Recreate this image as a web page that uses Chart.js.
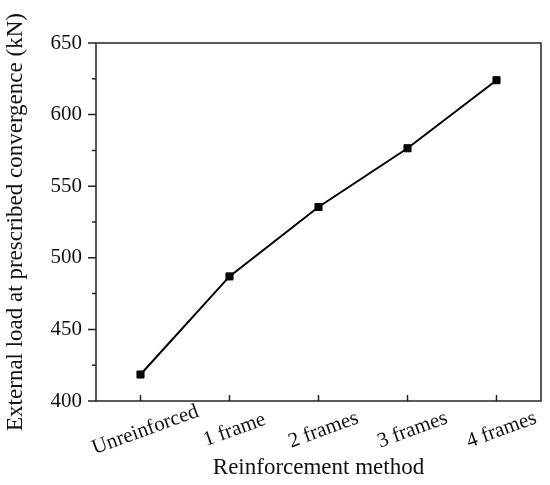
<!DOCTYPE html>
<html>
<head>
<meta charset="utf-8">
<script src="https://cdn.jsdelivr.net/npm/chart.js@4"></script>
<style>
    html, body { margin: 0; padding: 0; background: #fff; }
    #wrap { width: 550px; height: 485px; }
</style>
</head>
<body>
<div id="wrap"><canvas id="chart" width="550" height="485"></canvas></div>
<script>
var categories = ['Unreinforced', '1 frame', '2 frames', '3 frames', '4 frames'];
var loadValues = [418.5, 487, 535.5, 576.5, 624];
var yTicks = [400, 450, 500, 550, 600, 650];

var FONT = '"Liberation Serif", "Times New Roman", serif';
var AXIS = '#222';

// frame, inward x ticks, minor y ticks and rotated category labels
var framePlugin = {
    id: 'frame',
    afterDraw: function (chart) {
        var ctx = chart.ctx;
        var a = chart.chartArea;
        var xs = chart.scales.x;
        var ys = chart.scales.y;
        ctx.save();
        ctx.strokeStyle = AXIS;
        ctx.lineWidth = 1.5;
        ctx.strokeRect(a.left, a.top, a.right - a.left, a.bottom - a.top);

        ctx.beginPath();
        categories.forEach(function (c, i) {
            var px = xs.getPixelForTick(i);
            ctx.moveTo(px, a.bottom);
            ctx.lineTo(px, a.bottom - 6);
        });
        yTicks.forEach(function (v) {
            var py = ys.getPixelForValue(v);
            ctx.moveTo(a.left, py);
            ctx.lineTo(a.left - 8, py);
            if (v < 650) {
                var pm = ys.getPixelForValue(v + 25);
                ctx.moveTo(a.left, pm);
                ctx.lineTo(a.left - 4, pm);
            }
        });
        ctx.stroke();

        ctx.fillStyle = '#111';
        ctx.font = '21px ' + FONT;
        ctx.textAlign = 'center';
        ctx.textBaseline = 'middle';
        categories.forEach(function (c, i) {
            var px = xs.getPixelForTick(i);
            ctx.save();
            ctx.translate(px + 5, a.bottom + 29);
            ctx.rotate(-20 * Math.PI / 180);
            ctx.fillText(c, 0, 0);
            ctx.restore();
        });
        ctx.restore();
    }
};

new Chart(document.getElementById('chart').getContext('2d'), {
    type: 'line',
    data: {
        labels: categories,
        datasets: [{
            data: loadValues,
            borderColor: '#000',
            backgroundColor: '#000',
            borderWidth: 2,
            pointStyle: 'rect',
            pointRadius: 5,
            pointBorderWidth: 1,
            pointBackgroundColor: '#000',
            tension: 0,
            fill: false
        }]
    },
    options: {
        responsive: false,
        animation: false,
        devicePixelRatio: 1,
        layout: { padding: { left: 0, right: 9, top: 43, bottom: 0 } },
        plugins: {
            legend: { display: false },
            tooltip: { enabled: false }
        },
        scales: {
            x: {
                type: 'category',
                offset: true,
                grid: { display: false },
                border: { display: false },
                ticks: { display: false },
                title: {
                    display: true,
                    text: 'Reinforcement method',
                    color: '#111',
                    font: { family: FONT, size: 23 },
                    padding: { top: 0, bottom: 3 }
                },
                afterFit: function (scale) { scale.height = 84; }
            },
            y: {
                min: 400,
                max: 650,
                grid: { display: false, tickLength: 8 },
                border: { display: false },
                ticks: {
                    stepSize: 50,
                    padding: 6,
                    color: '#111',
                    font: { family: FONT, size: 21 }
                },
                title: {
                    display: true,
                    text: 'External load at prescribed convergence (kN)',
                    color: '#111',
                    font: { family: FONT, size: 23 },
                    padding: { top: 2, bottom: 0 }
                },
                afterFit: function (scale) { scale.width = 96; }
            }
        }
    },
    plugins: [framePlugin]
});
</script>
</body>
</html>
